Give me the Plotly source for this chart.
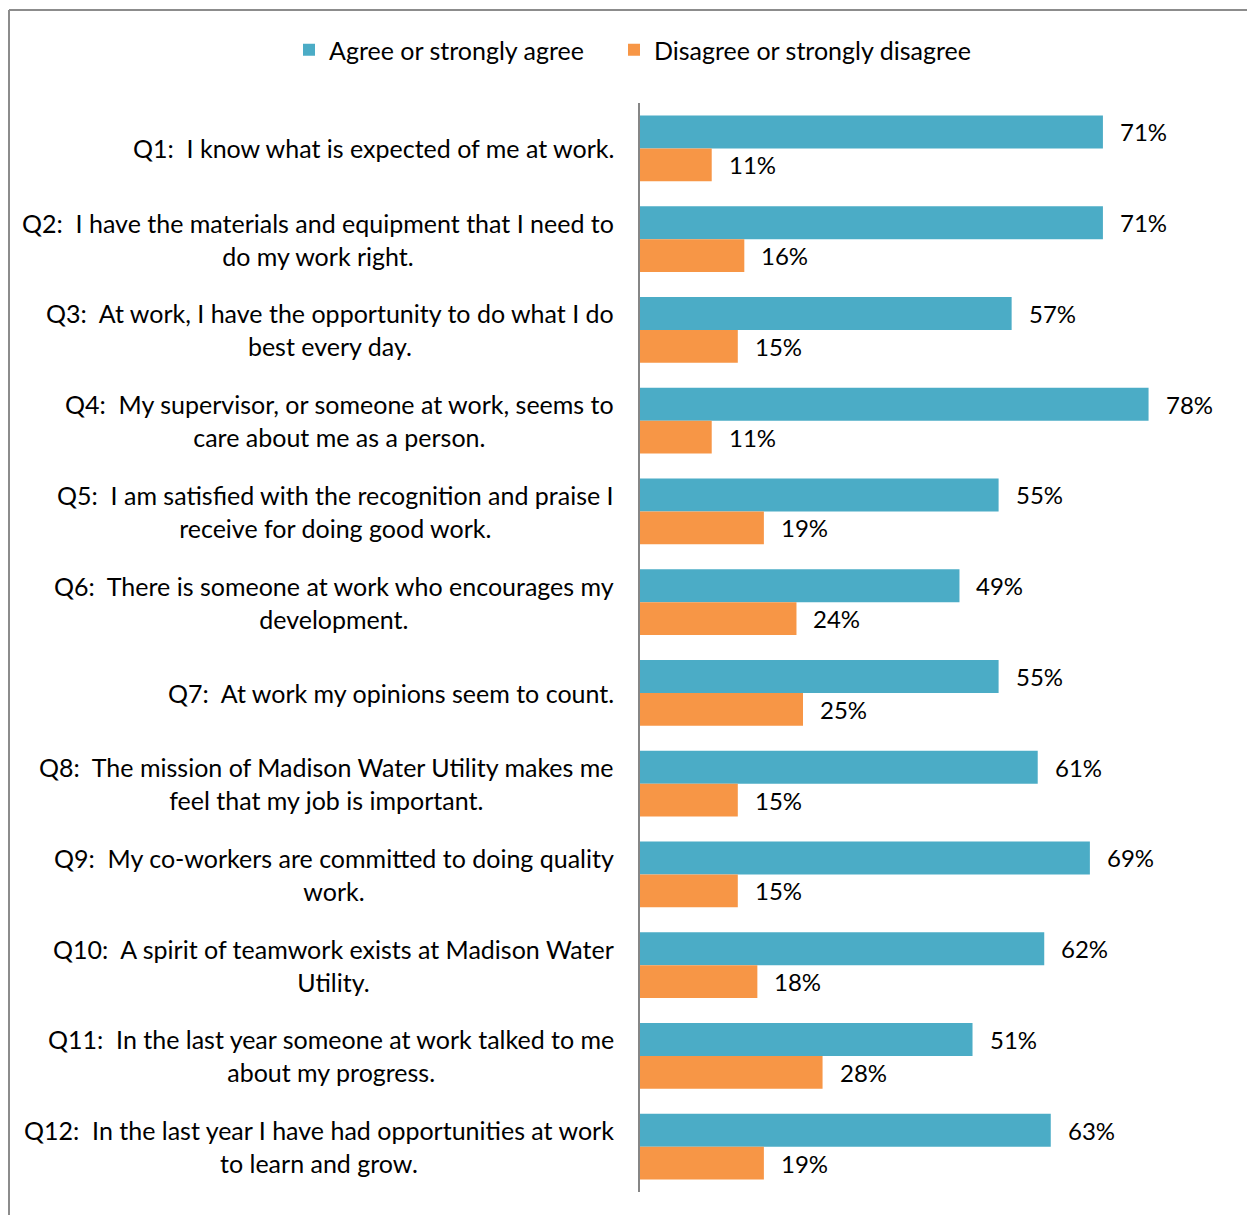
import plotly.graph_objects as go

questions = [
    "Q1:  I know what is expected of me at work.",
    "Q2:  I have the materials and equipment that I need to<br>do my work right.",
    "Q3:  At work, I have the opportunity to do what I do<br>best every day.",
    "Q4:  My supervisor, or someone at work, seems to<br>care about me as a person.",
    "Q5:  I am satisfied with the recognition and praise I<br>receive for doing good work.",
    "Q6:  There is someone at work who encourages my<br>development.",
    "Q7:  At work my opinions seem to count.",
    "Q8:  The mission of Madison Water Utility makes me<br>feel that my job is important.",
    "Q9:  My co-workers are committed to doing quality<br>work.",
    "Q10:  A spirit of teamwork exists at Madison Water<br>Utility.",
    "Q11:  In the last year someone at work talked to me<br>about my progress.",
    "Q12:  In the last year I have had opportunities at work<br>to learn and grow.",
]
agree = [71, 71, 57, 78, 55, 49, 55, 61, 69, 62, 51, 63]
disagree = [11, 16, 15, 11, 19, 24, 25, 15, 15, 18, 28, 19]

series_names = ["Agree or strongly agree", "Disagree or strongly disagree"]
colors = ["#4BACC6", "#F79646"]

FONT = "Lato"
# the page body adds an 8px margin, so figure coords = page coords - 8
W, H = 1255, 1215
ML, MT = 632, 95
PLOT_W, PLOT_H = 595, 1089
MR = W - ML - PLOT_W
MB = H - MT - PLOT_H
PX_PER_PCT = 6.52


def px_to_paper_x(px):
    return (px - 8 - ML) / PLOT_W


def px_to_paper_y(py):
    return 1 + (MT - (py - 8)) / PLOT_H


cats = [f"Q{i + 1}" for i in range(len(questions))]

fig = go.Figure()
for i, (name, vals, col) in enumerate(zip(series_names, [agree, disagree], colors)):
    fig.add_trace(
        go.Bar(
            name=name,
            y=cats,
            x=vals,
            orientation="h",
            marker_color=col,
            marker_line_width=0,
            hoverinfo="x+y",
            legend="legend" if i == 0 else "legend2",
        )
    )

annotations = []
# question labels: right aligned block, lines centred inside it
for cat, q in zip(cats, questions):
    annotations.append(
        dict(
            x=0, xref="paper", xanchor="right", xshift=-24,
            y=cat, yref="y", yanchor="middle",
            text=q.replace("  ", "&nbsp; "),
            align="center", showarrow=False,
            font=dict(family=FONT, size=25, color="#000000"),
        )
    )

# value labels next to each bar
for vals, shift in zip([agree, disagree], [16.5, -16.5]):
    for cat, v in zip(cats, vals):
        annotations.append(
            dict(
                x=v, y=cat, xanchor="left", yanchor="middle",
                xshift=15, yshift=shift,
                text=f"{v}%", showarrow=False,
                font=dict(family=FONT, size=24, color="#000000"),
            )
        )

bx = px_to_paper_x(9)
by = px_to_paper_y(10)

legend_common = dict(
    orientation="h",
    y=px_to_paper_y(50), yanchor="middle",
    xanchor="left",
    font=dict(family=FONT, size=25),
    bgcolor="rgba(0,0,0,0)",
)

fig.update_layout(
    width=W,
    height=H,
    margin=dict(l=ML, r=MR, t=MT, b=MB),
    paper_bgcolor="white",
    plot_bgcolor="white",
    barmode="group",
    bargap=0.273,
    bargroupgap=0,
    font=dict(family=FONT, size=25, color="#000000"),
    showlegend=True,
    legend=dict(x=px_to_paper_x(289), **legend_common),
    legend2=dict(x=px_to_paper_x(614), **legend_common),
    xaxis=dict(
        range=[0, PLOT_W / PX_PER_PCT],
        showgrid=False, zeroline=False, showticklabels=False,
        showline=False, fixedrange=True,
    ),
    yaxis=dict(
        autorange="reversed",
        showgrid=False, zeroline=False, showticklabels=False,
        showline=True, linecolor="#868686", linewidth=2, ticks="",
    ),
    annotations=annotations,
    shapes=[
        dict(type="line", xref="paper", yref="paper", x0=bx, x1=2, y0=by, y1=by,
             line=dict(color="#8C8C8C", width=2)),
        dict(type="line", xref="paper", yref="paper", x0=bx, x1=bx, y0=-1, y1=by,
             line=dict(color="#8C8C8C", width=2)),
    ],
)

fig.write_html("out.html")
